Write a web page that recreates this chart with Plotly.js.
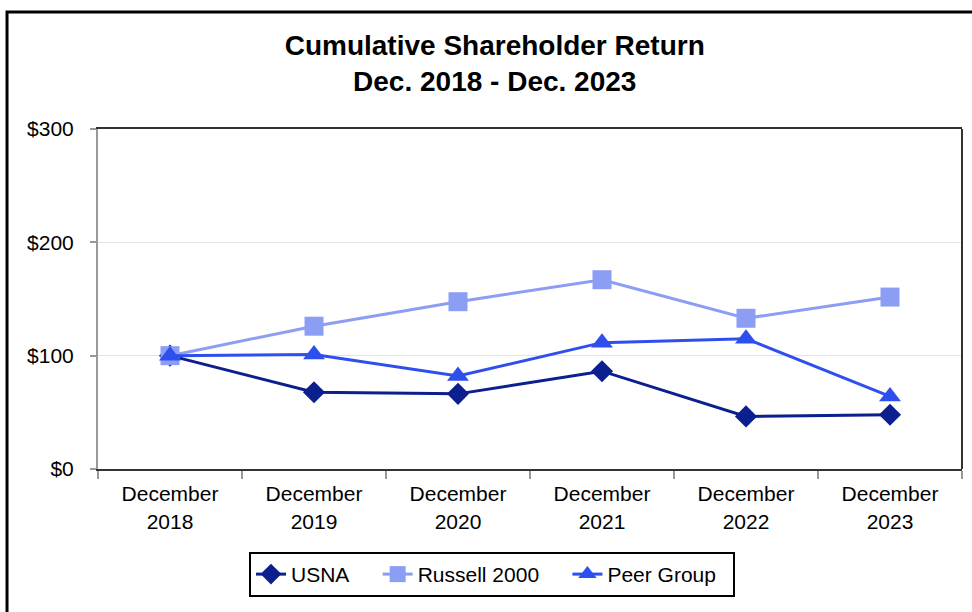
<!DOCTYPE html>
<html>
<head>
<meta charset="utf-8">
<script src="https://cdn.plot.ly/plotly-3.0.1.min.js"></script>
<style>html,body{margin:0;padding:0;background:#fff}#chart{width:972px;height:612px}</style>
</head>
<body>
<div id="chart"></div>
<script>
const categories = ["December<br>2018", "December<br>2019", "December<br>2020", "December<br>2021", "December<br>2022", "December<br>2023"];
const usna = [100, 67.7, 66.3, 86.3, 46.4, 47.9];
const russell2000 = [100, 126, 147.6, 167, 133, 151.7];
const peerGroup = [100, 101, 82, 111.5, 115, 64];
const seriesNames = ["USNA", "Russell 2000", "Peer Group"];
const yTicks = [0, 100, 200, 300];
const yTickText = ["$0", "$100", "$200", "$300"];

const font = "Liberation Sans, Arial, sans-serif";
const pad = "\u00a0\u00a0\u00a0\u00a0";
const traces = [
  {x: categories, y: usna, name: seriesNames[0] + pad, type: "scatter", mode: "lines+markers",
   line: {color: "#0B1F8F", width: 3}, marker: {symbol: "diamond", size: 17, color: "#0B1F8F"}},
  {x: categories, y: russell2000, name: seriesNames[1] + pad, type: "scatter", mode: "lines+markers",
   line: {color: "#8C9EF4", width: 3}, marker: {symbol: "square", size: 19, color: "#8C9EF4"}},
  {x: categories, y: peerGroup, name: seriesNames[2] + "\u00a0\u00a0", type: "scatter", mode: "lines+markers",
   line: {color: "#2E4FEE", width: 3}, marker: {symbol: "triangle-up", size: 19, color: "#2E4FEE"}}
];
const layout = {
  width: 972, height: 612,
  margin: {l: 98, r: 10, t: 129, b: 143},
  paper_bgcolor: "#fff", plot_bgcolor: "#fff",
  font: {family: font, size: 21, color: "#000"},
  title: {text: "<b>Cumulative Shareholder Return<br>Dec. 2018 - Dec. 2023</b>",
          font: {family: font, size: 28, color: "#000"},
          x: 0.509, xref: "container", xanchor: "center", y: 0.91, yref: "container", yanchor: "top"},
  showlegend: true,
  legend: {orientation: "h", x: 0.456, xanchor: "center", y: -0.244, yanchor: "top",
           bordercolor: "#000", borderwidth: 2, font: {family: font, size: 21, color: "#000"},
           traceorder: "normal"},
  xaxis: {type: "category", range: [-0.5, 5.5], showline: true, linecolor: "#333", linewidth: 2,
          mirror: true, ticks: "outside", tickson: "boundaries", ticklen: 8, tickcolor: "#999", tickwidth: 2,
          ticklabelstandoff: 5,
          showgrid: false, zeroline: false, fixedrange: true, tickfont: {family: font, size: 21, color: "#000"}},
  yaxis: {range: [0, 300], tickvals: yTicks, ticktext: yTickText, showline: true, linecolor: "#999", linewidth: 2,
          ticks: "outside", ticklen: 6, tickcolor: "#999", tickwidth: 2, showgrid: true, gridcolor: "#e3e3e3",
          ticklabelstandoff: 12,
          gridwidth: 1, zeroline: false, tickfont: {family: font, size: 21, color: "#000"}},
  shapes: [
    {type: "line", xref: "paper", yref: "paper", x0: 1, x1: 1, y0: 0, y1: 1, line: {color: "#333", width: 2}},
    {type: "rect", xref: "paper", yref: "paper", x0: -0.1053, x1: 1.2, y0: -0.6, y1: 1.344,
     line: {color: "#000", width: 3}, layer: "below"}
  ]
};
Plotly.newPlot("chart", traces, layout, {displayModeBar: false, staticPlot: true});
</script>
</body>
</html>
